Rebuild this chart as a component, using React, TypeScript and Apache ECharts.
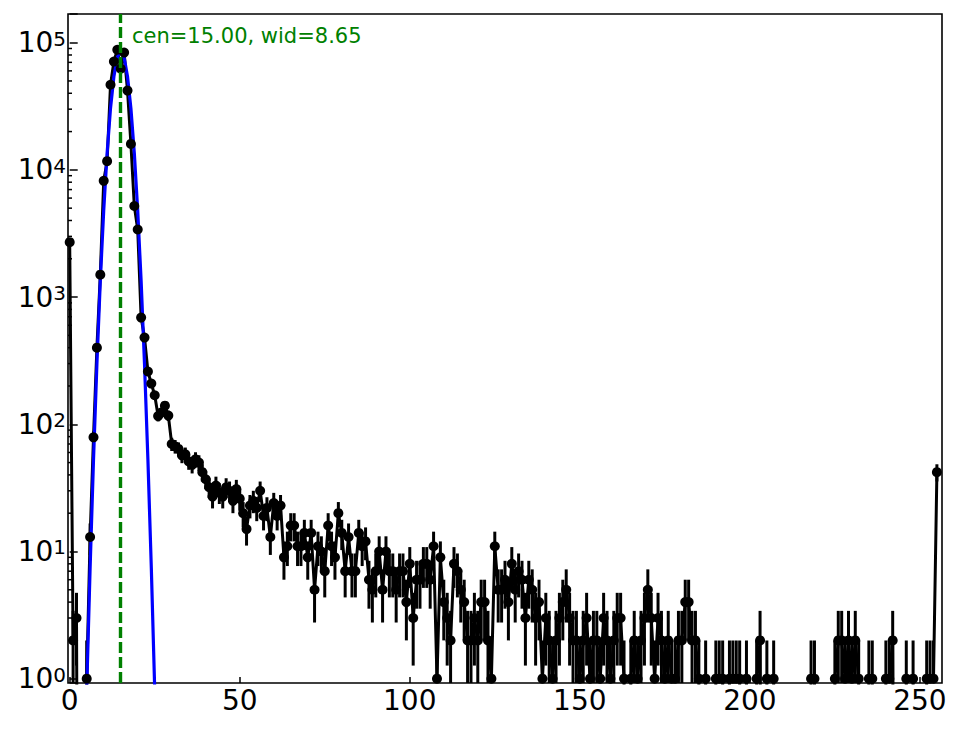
import React, { useEffect, useRef } from "react";
import * as echarts from "echarts";

// histogram counts, one per bin 0..255
const COUNTS: number[] = [
  2700, 2, 3, 0, 0, 1, 13, 79, 400, 1500, 8200, 11700, 46700, 71000, 88000, 62500,
  83500, 42000, 16000, 5200, 3400, 690, 480, 260, 209, 169, 116, 124, 140, 117, 70, 67,
  64, 57, 58, 51, 48, 53, 50, 42, 37, 32, 27, 33, 29, 27, 32, 30,
  25, 31, 26, 20, 15, 23, 25, 22, 30, 19, 22, 13, 24, 19, 23, 9,
  11, 16, 16, 11, 11, 14, 9, 14, 5, 11, 10, 7, 16, 11, 9, 20,
  14, 7, 13, 7, 7, 14, 11, 12, 6, 5, 7, 10, 5, 10, 7, 7,
  5, 7, 7, 4, 8, 3, 6, 6, 8, 8, 6, 11, 1, 9, 4, 3,
  2, 8, 7, 5, 4, 2, 2, 3, 2, 4, 4, 2, 1, 11, 5, 5,
  6, 4, 8, 5, 7, 6, 3, 6, 5, 3, 4, 1, 3, 2, 1, 2,
  3, 4, 5, 3, 2, 2, 1, 2, 3, 1, 2, 2, 1, 3, 2, 1,
  2, 3, 3, 1, 0, 1, 2, 1, 2, 3, 5, 3, 1, 3, 2, 1,
  2, 1, 1, 2, 2, 4, 4, 2, 2, 1, 0, 1, 0, 0, 1, 1,
  1, 0, 1, 1, 1, 1, 0, 1, 0, 0, 1, 2, 0, 1, 0, 1,
  0, 0, 0, 0, 0, 0, 0, 0, 0, 0, 1, 1, 0, 0, 0, 0,
  0, 1, 2, 2, 1, 2, 1, 2, 1, 0, 0, 1, 1, 0, 0, 0,
  1, 1, 2, 0, 0, 0, 1, 0, 1, 0, 0, 0, 1, 1, 1, 42,
];

// gaussian fit (blue), read at integer bins
const FIT_X = [4, 5, 6, 7, 8, 9, 10, 11, 12, 13, 14, 15, 16, 17, 18, 19, 20, 21, 22, 23, 24, 25, 26];
const FIT_Y = [
  0.072, 0.82, 7.4, 52.6, 298, 1340, 4780, 13530, 30400, 54200, 76600, 86000,
  76600, 54200, 30400, 13530, 4780, 1340, 298, 52.6, 7.4, 0.82, 0.072,
];

const CEN = 15;
const FIT_LABEL = "cen=15.00, wid=8.65";

const X_TICKS = [0, 50, 100, 150, 200, 250];
const Y_MINOR_TICKS = [
  2, 3, 4, 5, 6, 7, 8, 9,
  20, 30, 40, 50, 60, 70, 80, 90,
  200, 300, 400, 500, 600, 700, 800, 900,
  2000, 3000, 4000, 5000, 6000, 7000, 8000, 9000,
  20000, 30000, 40000, 50000, 60000, 70000, 80000, 90000,
];

const X_MIN = -0.5;
const X_MAX = 256.5;
const Y_MIN = 0.925;
const Y_MAX = 168000;
const ZERO_FLOOR = 1e-6; // empty bins fall off the bottom, like a clipped log plot

const FONT = '"DejaVu Sans", sans-serif';

export default function App() {
  const chartRef = useRef<HTMLDivElement | null>(null);

  useEffect(() => {
    if (!chartRef.current) return;
    const chart = echarts.init(chartRef.current, null, { renderer: "svg" });

    const lineData = COUNTS.map((c, i) => [i, c > 0 ? c : ZERO_FLOOR]);
    const pointData = COUNTS.map((c, i) => [i, c]).filter((d) => d[1] > 0);
    const errData = pointData.map(([x, y]) => [
      x,
      y,
      Math.max(y - Math.sqrt(y), ZERO_FLOOR),
      y + Math.sqrt(y),
    ]);

    chart.setOption({
      animation: false,
      backgroundColor: "#ffffff",
      textStyle: { fontFamily: FONT },
      grid: {
        left: 68,
        top: 14,
        right: 22,
        bottom: 46,
        show: true,
        borderColor: "#000",
        borderWidth: 1.6,
        backgroundColor: "transparent",
      },
      xAxis: {
        type: "value",
        min: X_MIN,
        max: X_MAX,
        axisLine: { show: false },
        splitLine: { show: false },
        axisTick: {
          inside: true,
          length: 6,
          customValues: X_TICKS,
          lineStyle: { color: "#000", width: 1.5 },
        },
        axisLabel: {
          customValues: X_TICKS,
          color: "#000",
          fontSize: 28,
          fontFamily: FONT,
          margin: 3,
        },
      },
      yAxis: {
        type: "log",
        logBase: 10,
        min: Y_MIN,
        max: Y_MAX,
        axisLine: { show: false },
        splitLine: { show: false },
        minorTick: { show: false },
        axisTick: {
          inside: true,
          length: 8,
          lineStyle: { color: "#000", width: 1.5 },
        },
        axisLabel: {
          margin: 2,
          formatter: (v: number) => {
            const e = Math.log10(v);
            const n = Math.round(e);
            if (Math.abs(e - n) > 1e-6) return "";
            return `{b|10}{s|${n}}`;
          },
          rich: {
            b: { fontSize: 28, fontFamily: FONT, color: "#000" },
            s: { fontSize: 20, fontFamily: FONT, color: "#000", verticalAlign: "top", padding: [0, 0, 6, 0] },
          },
        },
      },
      graphic: [
        {
          type: "text",
          x: 132,
          y: 25,
          style: {
            text: FIT_LABEL,
            fill: "#008000",
            font: `21px ${FONT}`,
            textVerticalAlign: "top",
          },
        },
      ],
      series: [
        {
          type: "line",
          data: lineData,
          showSymbol: false,
          clip: true,
          silent: true,
          lineStyle: { color: "#000", width: 3 },
          z: 2,
        },
        {
          type: "custom",
          coordinateSystem: "cartesian2d",
          clip: true,
          silent: true,
          data: errData,
          encode: { x: 0, y: [1, 2, 3] },
          renderItem: (params: any, api: any) => {
            const lo = api.coord([api.value(0), api.value(2)]);
            const hi = api.coord([api.value(0), api.value(3)]);
            return {
              type: "line",
              shape: { x1: lo[0], y1: lo[1], x2: hi[0], y2: hi[1] },
              style: { stroke: "#000", lineWidth: 3 },
            };
          },
          z: 2,
        },
        {
          type: "line",
          data: FIT_X.map((x, i) => [x, FIT_Y[i]]),
          showSymbol: false,
          clip: true,
          silent: true,
          lineStyle: { color: "#0000ff", width: 3.2 },
          z: 3,
          markLine: {
            symbol: ["none", "none"],
            silent: true,
            label: { show: false },
            lineStyle: { color: "#008000", width: 3.4, type: [11, 4], opacity: 1 },
            data: [{ xAxis: CEN }],
          },
        },
        {
          type: "scatter",
          data: pointData,
          symbol: "circle",
          symbolSize: 10,
          silent: true,
          itemStyle: { color: "#000", opacity: 1 },
          z: 4,
        },
        {
          // minor log ticks on the left spine
          type: "custom",
          coordinateSystem: "cartesian2d",
          silent: true,
          data: Y_MINOR_TICKS.map((v) => [X_MIN, v]),
          renderItem: (params: any, api: any) => {
            const p = api.coord([api.value(0), api.value(1)]);
            return {
              type: "line",
              shape: { x1: p[0], y1: p[1], x2: p[0] + 4, y2: p[1] },
              style: { stroke: "#000", lineWidth: 1.5 },
            };
          },
          z: 6,
        },
      ],
    });

    return () => {
      chart.dispose();
    };
  }, []);

  return (
    <div
      ref={chartRef}
      style={{ position: "fixed", left: 0, top: 0, width: 964, height: 729 }}
    />
  );
}
